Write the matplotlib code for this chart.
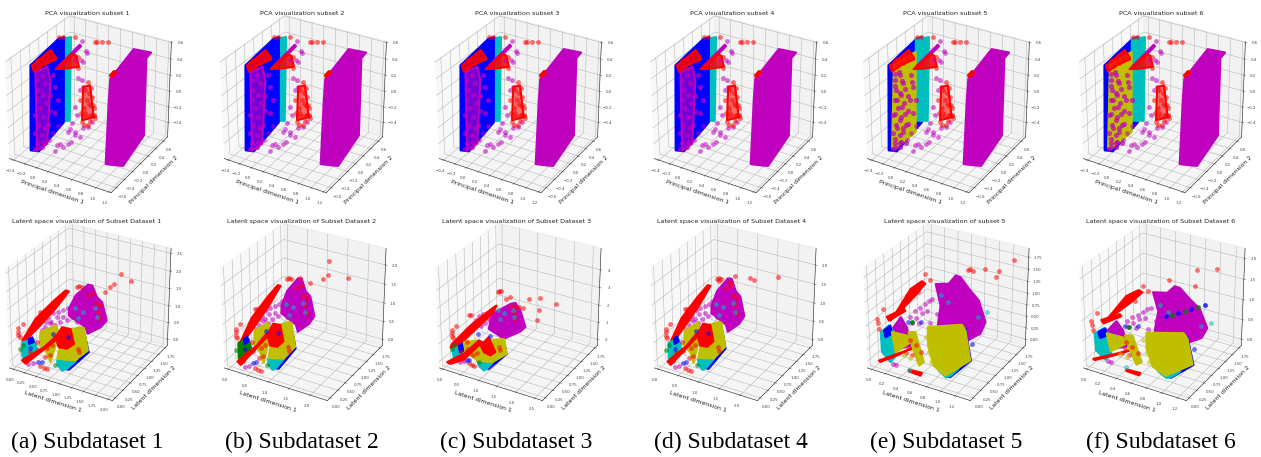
"""Grid of 3D scatter panels: PCA view on top, latent space below, one column per subdataset."""
import matplotlib
matplotlib.use("Agg")
import matplotlib.pyplot as plt
from mpl_toolkits.mplot3d.art3d import Poly3DCollection

plt.rcParams["grid.linewidth"] = 0.35
plt.rcParams["axes.linewidth"] = 0.35
plt.rcParams["xtick.major.width"] = 0.3
plt.rcParams["ytick.major.width"] = 0.3

W, H = 1261, 457
SIDE = 210
COL_OFFSET = [0, 215, 430, 645, 858, 1074]
TOP_VIEW = (30.0, -59.34, 0.938, 0.929, 86.76, 103.41)
BOT_VIEW = (29.21, -60.18, 0.95, 0.933, 86.8, 311.39)

captions = ["(a) Subdataset 1", "(b) Subdataset 2", "(c) Subdataset 3",
            "(d) Subdataset 4", "(e) Subdataset 5", "(f) Subdataset 6"]
caption_x = [87, 302, 516, 731, 946, 1161]
pca_titles = [f"PCA visualization subset {i}" for i in range(1, 7)]
latent_titles = ["Latent space visualization of Subset Dataset 1",
                 "Latent space visualization of Subset Dataset 2",
                 "Latent space visualization of Subset Dataset 3",
                 "Latent space visualization of Subset Dataset 4",
                 "Latent space visualization of subset 5",
                 "Latent space visualization of Subset Dataset 6"]

pca_xticks = [-0.4, -0.2, 0.0, 0.2, 0.4, 0.6, 0.8, 1.0, 1.2]
pca_yticks = [-0.6, -0.4, -0.2, 0.0, 0.2, 0.4, 0.6]
pca_zticks = [-0.4, -0.2, 0.0, 0.2, 0.4, 0.6]
lat_yticks = [0.0, 0.25, 0.5, 0.75, 1.0, 1.25, 1.5, 1.75]
lat_xticks = [[0, .25, .5, .75, 1, 1.25, 1.5, 1.75, 2], [0, .5, 1, 1.5, 2], [0, .5, 1, 1.5, 2, 2.5],
              [0, .5, 1, 1.5, 2], [0, .2, .4, .6, .8, 1, 1.2], [0, .2, .4, .6, .8, 1, 1.2]]
lat_zticks = [[0, .5, 1, 1.5, 2, 2.5], [0, .5, 1, 1.5, 2], [0, 1, 2, 3, 4],
              [0, .5, 1, 1.5, 2], [0, .25, .5, .75, 1, 1.25, 1.5, 1.75], [0, .5, 1, 1.5, 2]]
lat_xlim = [(-.09, 2.09), (-.1, 2.4), (-.1, 2.7), (-.1, 2.4), (-.07, 1.41), (-.05, 1.31)]
lat_zlim = [(-.19, 2.64), (-.17, 2.43), (-.37, 5.18), (-.17, 2.43), (-.14, 1.93), (-.16, 2.24)]

# PCA clouds: (y, z), in hundredths, at the fixed x given when drawn
pca_sheet_m = [(-47,-42),(-42,-45),(-4,-66),(49,-52),(50,45),(62,47),(17,69),(-38,57),(-41,33)]
pca_sheet_c = [(-1,66),(29,57),(24,-47),(-6,-33)]
pca_sheet_b = [(-49,52),(14,59),(26,56),(23,-51),(-36,-61),(-54,-51)]
pca_sheet_p = [(-45,43),(-19,39),(-13,20),(-23,-56),(-46,-54)]
pca_sheet_y = [(-46,54),(2,49),(-1,-51),(-48,-50),(-55,-45)]
pca_red_top = [(-52,54),(-11,56),(0,43),(1,40),(-30,45),(-48,45)]
pca_wedge_m = [(-33,52),(15,58),(18,55),(-28,49)]
pca_wedge_r = [(-40,51),(-3,54),(7,48),(13,32),(-22,44)]
pca_red_col = [(-12,23),(4,18),(13,-26),(-15,-17)]
pca_red_pts = [(-63,101),(-54,98),(-29,88),(17,65),(21,63),(33,58),(49,52),(56,8),(61,9),(65,9),(-18,9),(17,-29),(9,1),
               (1,23),(15,-16),(-7,16),(-3,2),(7,-10),(-17,-8),(7,-21),(-22,50),(-22,63),(-110,95),(-100,92),(-89,92),
               (-104,85),(-83,85),(-93,84),(12,-10),(-10,-5),(-2,-18),(14,-24),(4,8),(-12,-14),(10,-22),(3,-5),(-6,-12),
               (16,-26),(8,12),(-14,-20),(6,-28),(-9,-26),(0,-30)]
pca_mag_pts = [(-7,74),(3,58),(6,55),(-9,53),(-3,48),(-22,58),(-15,33),(-7,28),(-4,18),(-11,17),(-23,2),(-19,-10),
               (-31,-15),(-35,-21),(-24,-29),(-39,-22),(-24,-33),(-12,-41),(-4,-34),(8,-38),(16,-35),(-58,-28),(-65,-26),
               (-69,-32),(-39,-37),(-32,-38),(-51,-35),(-83,-11),(-72,-8),(-61,-5)]
pca_mag_dense = [(-39,30),(-28,32),(-21,19),(-36,17),(-26,6),(-40,6),(-19,-7),(-34,-7),(-45,-10),(-27,-21),(-11,-21),
                 (-38,-26),(-24,-37),(-11,-2),(-46,-33),(-31,-42),(-16,-36),(-43,-47),(-28,-52),(-47,-52),(-32,-57),
                 (1,5),(-2,21),(8,-15),(0,-28)]
pca_mag_dense56 = [(-41,39),(-33,38),(-27,25),(-41,24),(-31,11),(-20,12),(-39,6),(-28,-7),(-43,-9),(-32,-22),(-21,-19),
                   (-40,-29),(-26,-40),(-45,-40),(-34,-51),(-19,-58),(-45,-50),(-9,-7),(-4,14),(-14,-35)]

# Latent clouds, panels 1, 2, 4: (x, z) in hundredths, at the fixed y given when drawn
a_mag = [(39,83),(54,128),(81,169),(90,170),(100,140),(111,130),(121,80),(108,55),(80,25),(75,43),(39,63)]
a_streak = [(-54,-34),(-22,45),(20,115),(46,154),(53,154),(23,92),(-19,16),(-51,-38)]
a_low = [(-11,-28),(39,32),(64,72),(68,68),(31,14),(-3,-35)]
a_cyan = [(-24,5),(2,24),(9,-1),(-18,-53),(-25,-36)]
a_blue = [(-9,21),(-1,29),(2,16),(-9,6)]
a_olive = [(75,87),(111,111),(118,111),(126,50),(98,9),(60,-2)]
a_olive_l = [(10,41),(44,74),(51,57),(43,14),(31,-41),(23,-14),(8,0)]
a_cyan_b = [(67,4),(106,18),(88,-11),(78,-21),(68,-10)]
a_blue_b = [(124,92),(131,51),(89,-18),(78,-20),(110,18)]
a_red_chunk = [(50,50),(65,85),(83,87),(90,46),(75,26),(57,23)]
a_mag_pts = [(22,77),(33,96),(44,105),(55,114),(66,123),(73,102),(62,88),(48,78),(37,63),(26,64),(14,50),(7,37),(73,131),
             (55,95),(41,89),(29,70),(18,66),(84,92),(91,109),(-14,-73),(-26,-82),(69,-8)]
a_red_pts = [(90,196),(95,195),(86,192),(107,176),(119,186),(125,160),(133,158),(129,138),(133,120),(-46,21),(-46,11),
             (-47,0),(-44,-5),(-34,38),(4,90),(10,92),(-31,-65),(-21,-40),(-5,-3),(-2,-27),(17,-14),(29,0),(24,-32),
             (13,-41),(87,12),(89,3),(1,-76),(9,-77),(16,-78)]
a_blue_pts = [(20,-37),(12,-41),(79,62),(-6,-8),(47,58)]
a_cyan_pts = [(110,125),(113,102),(67,109),(74,82),(85,106)]
a_green_pts = [(56,-24),(-13,8),(-21,-8)]
outliers = [[(145,215),(165,202),(131,181),(123,168),(112,152)],
            [(149,225),(148,190),(194,193),(136,175),(104,156),(79,161)],
            [(129,247),(159,271),(202,260),(157,198),(152,142),(113,184),(102,187)],
            [(91,171),(128,176),(139,173),(194,196),(53,147),(79,152)],
            [(145,203),(105,170),(125,173),(121,160),(85,161),(82,159),(89,159)],
            [(94,192),(119,206),(91,153),(57,151)]]

# Latent clouds, panel 3
c_mag = [(32,123),(85,211),(98,225),(112,189),(126,101),(112,67),(65,-5),(22,28)]
c_streak = [(-69,-87),(-13,57),(55,204),(63,218),(50,163),(-13,7),(-64,-125),(-74,-111)]
c_low = [(-27,-75),(22,6),(66,110),(75,106),(22,-28),(-17,-79)]
c_cyan = [(-30,-30),(-1,8),(-2,-42),(-26,-91)]
c_blue = [(-10,2),(-1,18),(4,-18),(-8,-36)]
c_olive = [(75,100),(126,141),(133,60),(93,-14),(49,-33),(46,15)]
c_olive_l = [(-5,10),(33,43),(38,7),(27,-69),(-1,-47)]
c_cyan_b = [(60,-9),(102,4),(87,-40),(78,-56),(64,-36)]
c_blue_b = [(130,142),(137,70),(88,-48),(78,-55),(116,24)]
c_red_chunk = [(52,41),(75,104),(93,29),(79,0),(61,8)]

# Latent clouds, panels 5, 6
b_mag = [(39,119),(58,127),(68,148),(75,147),(87,128),(101,109),(111,68),(104,40),(80,10),(78,39),(41,23),(46,76)]
b_mag_l = [(-3,33),(10,64),(19,46),(24,8),(6,-7)]
b_streak = [(-13,45),(11,108),(28,131),(33,128),(18,97),(-2,60),(-21,27)]
b_streak2 = [(-11,56),(15,84),(17,80),(-8,49)]
b_low = [(-10,-22),(38,25),(43,31),(18,2),(-8,-24)]
b_cyan_l = [(-16,26),(-3,46),(4,35),(6,-16),(-2,-34),(-15,-17)]
b_blue_l = [(-11,32),(-1,47),(1,30),(-9,18)]
b_olive_l = [(-4,26),(19,28),(24,16),(9,-6),(1,-17)]
b_olive_m = [(26,44),(36,49),(48,-11),(41,-22),(32,11)]
b_olive = [(59,75),(107,100),(112,90),(119,31),(84,-18),(67,-4),(59,36)]
b_blue_b = [(114,97),(122,35),(93,-14),(86,-13),(119,36)]
b_cyan_b = [(74,6),(107,14),(96,-6),(89,-13),(79,-3)]
b_red_b = [(40,-13),(59,-11),(57,-18),(40,-17)]
b_mag_pts = [(25,70),(32,85),(40,95),(47,105),(52,115),(57,120),(34,71),(42,85),(50,92),(27,57),(37,61),(54,68),(64,91),
             (70,123),(2,-46),(-3,-46)]
b_red_pts = [(-25,45),(-24,35),(-23,23),(-16,70),(47,168),(54,158),(37,127),(24,19),(32,11),(22,0),(27,-13),(40,0),(17,-13)]
b_olive_pts = [(47,36),(52,5),(54,-16),(24,-21),(14,-19)]
b_blue_pts = [(114,50),(22,58),(40,66)]
b_green_pts = [(28,59)]
b_cyan_pts = [(70,134),(80,123),(134,124),(122,110),(22,-48)]
b6_band_blue = [(77,110),(93,127),(109,143),(127,163)]
b6_band_green = [(85,118),(101,135),(118,153)]


def with_x(pairs, x):
    return [(x, a / 100, b / 100) for a, b in pairs]


def with_y(pairs, y, zscale=1.0):
    return [(a / 100, y, b / 100 * zscale) for a, b in pairs]


class Painter:
    """Keeps the drawing order, since the panels are painted back to front by hand."""

    def __init__(self, ax):
        self.ax = ax
        self.order = 1

    def sheet(self, verts, color, alpha=1.0):
        poly = Poly3DCollection([verts], facecolors=color, edgecolors=color, linewidths=1.5, alpha=alpha)
        poly.set_zorder(self.order)
        self.ax.add_collection3d(poly)
        self.order += 1

    def points(self, verts, color, s=12, alpha=0.55):
        xs, ys, zs = zip(*verts)
        self.ax.scatter(xs, ys, zs, c=color, s=s, alpha=alpha, linewidths=0, depthshade=False, zorder=self.order)
        self.order += 1


def make_axes(fig, view, offset, title, title_y, xlabel, ylabel, xticks, yticks, zticks, xlim, ylim, zlim):
    elev, azim, boxz, zoom, cx, cy = view
    ax = fig.add_axes([(cx + offset - SIDE / 2) / W, 1 - (cy + SIDE / 2) / H, SIDE / W, SIDE / H],
                      projection="3d", computed_zorder=False)
    ax.patch.set_alpha(0)
    ax.view_init(elev=elev, azim=azim)
    ax.set_box_aspect((1, 1, boxz), zoom=zoom)
    ax.set_xlim(*xlim)
    ax.set_ylim(*ylim)
    ax.set_zlim(*zlim)
    ax.set_xticks(xticks)
    ax.set_yticks(yticks)
    ax.set_zticks(zticks)
    ax.tick_params(labelsize=2.8, pad=-3.5, length=0, colors="#444444")
    ax.set_xlabel(xlabel, fontsize=4.4, labelpad=-12, color="#222222")
    ax.set_ylabel(ylabel, fontsize=4.4, labelpad=-11, color="#222222")
    ax.set_title(title, fontsize=4.6, y=(cy + SIDE / 2 - title_y + 15) / SIDE, pad=0, va="center", color="#222222")
    return ax


def draw_pca(ax, idx):
    p = Painter(ax)
    late = idx >= 4
    if not late:
        p.sheet(with_x(pca_sheet_c, -.15), "c")
    p.sheet(with_x(pca_sheet_b, -.25), "b")
    if late:
        p.sheet(with_x(pca_sheet_c, -.15), "c")
        p.sheet(with_x(pca_sheet_y, -.18), "y")
        p.points(with_x(pca_mag_dense56, -.2), "m", s=14, alpha=0.7)
    else:
        p.sheet(with_x(pca_sheet_p, -.2), "m", alpha=0.6)
    p.points(with_x(pca_mag_dense, -.22), "m", s=14, alpha=0.7)
    p.sheet(with_x(pca_red_top, -.2), "r", alpha=0.85)
    p.sheet(with_x(pca_wedge_m, .1), "m")
    p.sheet(with_x(pca_wedge_r, .1), "r", alpha=0.85)
    p.points(with_x(pca_mag_pts, .3), "m")
    p.sheet(with_x(pca_red_col, .35), "r", alpha=0.55)
    p.points(with_x(pca_red_pts, .35), "r")
    p.sheet(with_x(pca_sheet_m, .97), "m")
    p.points(with_x(pca_red_pts[7:10], .35), "r", alpha=0.9)


def draw_latent(ax, idx):
    p = Painter(ax)
    if idx == 2:
        p.sheet(with_y(c_mag, 1.1), "m")
        p.points(with_y(a_mag_pts, .7, 1.75), "m")
        p.sheet(with_y(c_streak, .9), "r")
        p.sheet(with_y(c_cyan, .5), "c")
        p.sheet(with_y(c_blue, .5), "b")
        p.sheet(with_y(c_olive_l, .6), "y")
        p.sheet(with_y(c_low, .3), "r")
        p.sheet(with_y(c_blue_b, .35), "b")
        p.sheet(with_y(c_cyan_b, .3), "c")
        p.sheet(with_y(c_olive, .4), "y")
        p.sheet(with_y(c_red_chunk, .5), "r")
        scale = 1.75
    elif idx < 4:
        p.sheet(with_y(a_mag, 1.1), "m")
        p.points(with_y(a_mag_pts, .7), "m")
        p.sheet(with_y(a_streak, .9), "r")
        p.sheet(with_y(a_cyan, .5), "g" if idx == 1 else "c")
        p.sheet(with_y(a_blue, .5), "b")
        p.sheet(with_y(a_olive_l, .6), "y")
        p.sheet(with_y(a_low, .3), "r")
        p.sheet(with_y(a_blue_b, .35), "b")
        p.sheet(with_y(a_cyan_b, .3), "c")
        p.sheet(with_y(a_olive, .4), "y")
        p.sheet(with_y(a_red_chunk, .5), "r")
        scale = 1.0
    else:
        p.sheet(with_y(b_mag, 1.1), "m")
        p.sheet(with_y(b_mag_l, .6), "m")
        p.points(with_y(b_mag_pts, .6), "m")
        p.sheet(with_y(b_streak, .9), "r")
        p.sheet(with_y(b_streak2, .6), "r")
        p.sheet(with_y(b_cyan_l, .5), "c")
        p.sheet(with_y(b_blue_l, .5), "b")
        p.sheet(with_y(b_olive_l, .6), "y")
        p.sheet(with_y(b_low, .3), "r")
        p.sheet(with_y(b_olive_m, .5), "y")
        p.sheet(with_y(b_blue_b, .35), "b")
        p.sheet(with_y(b_cyan_b, .3), "c")
        p.sheet(with_y(b_olive, .4), "y")
        p.sheet(with_y(b_red_b, .2), "r")
        p.points(with_y(b_red_pts, .6), "r")
        p.points(with_y(b_olive_pts, .6), "y")
        p.points(with_y(b_blue_pts, .6), "b")
        p.points(with_y(b_green_pts, .6), "g", alpha=0.9)
        p.points(with_y(b_cyan_pts, .6), "c")
        if idx == 5:
            p.points(with_y(b6_band_blue, .6), "b", alpha=0.8)
            p.points(with_y(b6_band_green, .6), "g", alpha=0.8)
        p.points(with_y(outliers[idx], 1.2), "r")
        return
    p.points(with_y(a_red_pts, .7, scale), "r")
    p.points(with_y(a_blue_pts, .5, scale), "b")
    p.points(with_y(a_cyan_pts, .9, scale), "c")
    p.points(with_y(a_green_pts, .4, scale), "g")
    p.points(with_y(outliers[idx], 1.2), "r")


fig = plt.figure(figsize=(W / 100, H / 100), dpi=100)
for i, off in enumerate(COL_OFFSET):
    ax = make_axes(fig, TOP_VIEW, off, pca_titles[i], 12, "Principal dimension 1", "Principal dimension 2",
                   pca_xticks, pca_yticks, pca_zticks, (-0.48, 1.24), (-0.72, 0.72), (-0.59, 0.61))
    draw_pca(ax, i)
    ax = make_axes(fig, BOT_VIEW, off, latent_titles[i], 220, "Latent dimension 1", "Latent dimension 2",
                   lat_xticks[i], lat_yticks, lat_zticks[i], lat_xlim[i], (-0.09, 1.84), lat_zlim[i])
    draw_latent(ax, i)
    fig.text(caption_x[i] / W, 1 - 442 / H, captions[i], family="Liberation Serif", fontsize=17, ha="center", va="center")
fig.savefig("out.png", dpi=100)
